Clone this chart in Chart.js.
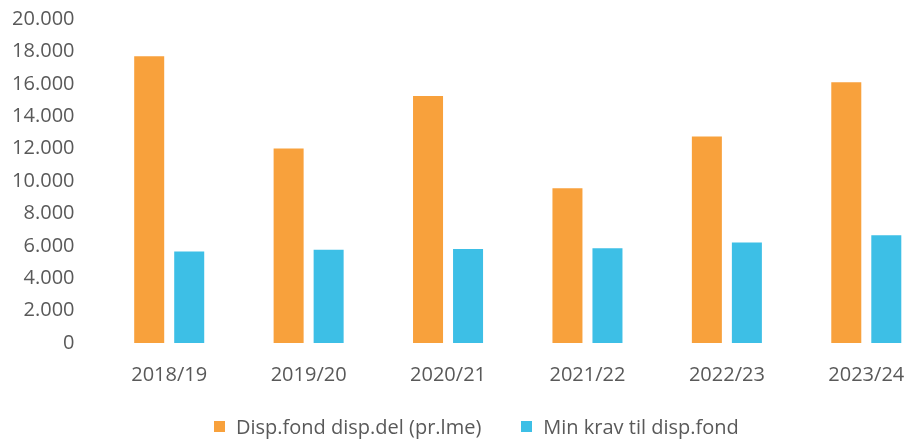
<!DOCTYPE html>
<html>
<head>
<meta charset="utf-8">
<script src="https://cdn.jsdelivr.net/npm/chart.js@4"></script>
<style>
    html, body { margin: 0; padding: 0; background: #fff; overflow: hidden; }
    #wrap { position: relative; width: 936px; height: 441px; }
    #legend {
        position: absolute; left: 214px; top: 413px;
        font-family: "Open Sans", sans-serif; font-size: 20px; color: #595959;
        display: flex; align-items: center; white-space: nowrap;
    }
    #legend span.box { display: inline-block; width: 11px; height: 11px; margin-right: 11px; }
</style>
</head>
<body>
<div id="wrap">
    <canvas id="barChart" width="936" height="441"></canvas>
    <div id="legend"></div>
</div>
<script>
// values
var categories = ['2018/19', '2019/20', '2020/21', '2021/22', '2022/23', '2023/24'];
var seriesNames = ['Disp.fond disp.del (pr.lme)', 'Min krav til disp.fond'];
var dispFond = [17700, 12000, 15250, 9550, 12750, 16100];
var minKrav = [5650, 5750, 5800, 5850, 6200, 6650];
var yTicks = [0, 2000, 4000, 6000, 8000, 10000, 12000, 14000, 16000, 18000, 20000];

var colors = ['#F8A13C', '#3DBFE6'];

function fmt(v) {
    // norwegian thousands separator
    return v === 0 ? '0' : v.toLocaleString('de-DE');
}

var ctx = document.getElementById('barChart').getContext('2d');
var myChart = new Chart(ctx, {
    type: 'bar',
    data: {
        labels: categories,
        datasets: [{
            label: seriesNames[0],
            data: dispFond,
            backgroundColor: colors[0]
        }, {
            label: seriesNames[1],
            data: minKrav,
            backgroundColor: colors[1]
        }]
    },
    options: {
        responsive: false,
        animation: false,
        devicePixelRatio: 1,
        layout: { padding: { top: 19, right: 0, bottom: 34, left: 0 } },
        datasets: {
            bar: { categoryPercentage: 0.574, barPercentage: 0.75 }
        },
        plugins: {
            legend: { display: false },
            tooltip: { enabled: false }
        },
        scales: {
            x: {
                grid: { display: false, drawTicks: false },
                border: { display: false },
                ticks: {
                    padding: 20,
                    autoSkip: false,
                    color: '#595959',
                    font: { family: 'Open Sans', size: 20 },
                    maxRotation: 0
                }
            },
            y: {
                min: 0,
                max: 20000,
                afterBuildTicks: function (axis) {
                    axis.ticks = yTicks.map(function (v) { return { value: v }; });
                },
                afterFit: function (axis) {
                    axis.width = 99.5;
                    axis.paddingTop = 0;
                    axis.paddingBottom = 0;
                },
                grid: { display: false, drawTicks: false },
                border: { display: false },
                ticks: {
                    padding: 25,
                    autoSkip: false,
                    color: '#595959',
                    font: { family: 'Open Sans', size: 20 },
                    callback: function (v) { return fmt(v); }
                }
            }
        }
    }
});

// legend as html below the chart
var legend = document.getElementById('legend');
seriesNames.forEach(function (name, i) {
    var item = document.createElement('span');
    item.style.display = 'inline-flex';
    item.style.alignItems = 'center';
    item.style.marginRight = i === 0 ? '40px' : '0';
    item.innerHTML = '<span class="box" style="background:' + colors[i] + '"></span>' + name;
    legend.appendChild(item);
});
</script>
</body>
</html>
